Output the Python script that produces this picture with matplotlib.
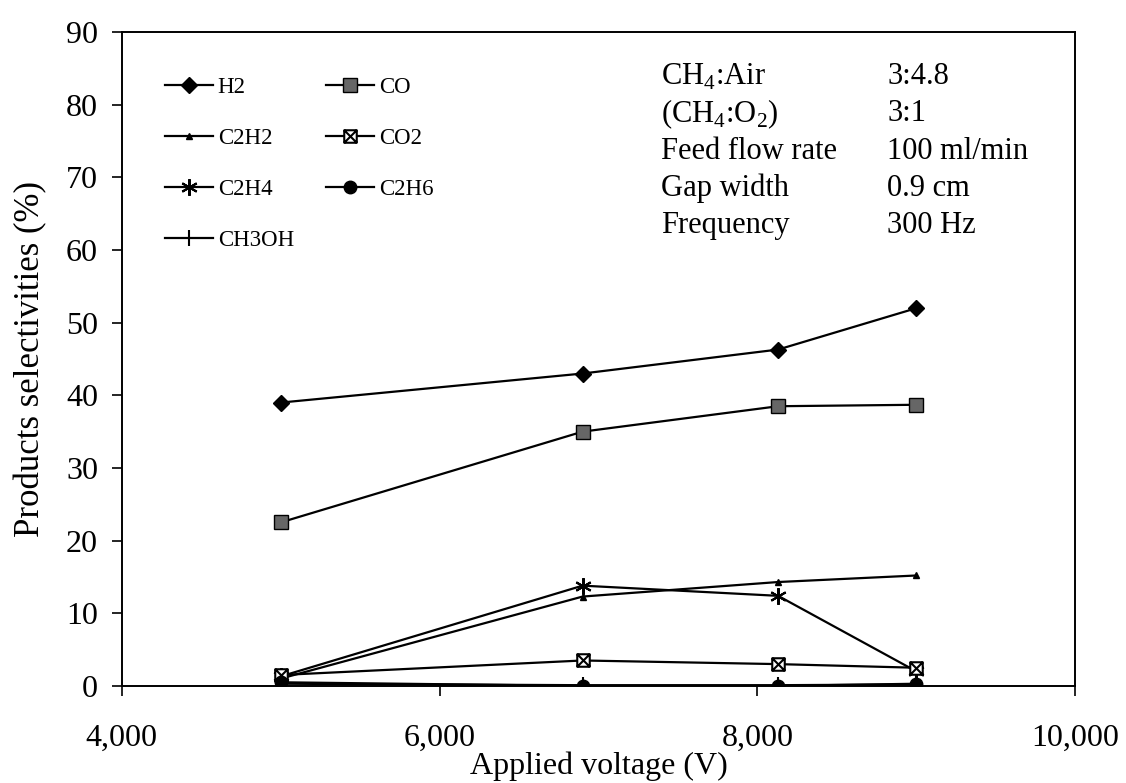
import numpy as np
import matplotlib.pyplot as plt
import matplotlib.ticker as ticker
from matplotlib.path import Path

# ===== DADOS =====
voltage = [5000, 6900, 8130, 9000]
h2 = [39.0, 43.0, 46.3, 52.0]
co = [22.5, 35.0, 38.5, 38.7]
c2h2 = [1.0, 12.3, 14.3, 15.2]
co2 = [1.5, 3.5, 3.0, 2.5]
c2h4 = [1.3, 13.8, 12.4, 2.0]
c2h6 = [0.5, 0.0, 0.0, 0.3]
ch3oh = [0.3, 0.1, 0.1, 0.2]

info_labels = ["CH$_4$:Air", "(CH$_4$:O$_2$)", "Feed flow rate", "Gap width", "Frequency"]
info_values = ["3:4.8", "3:1", "100 ml/min", "0.9 cm", "300 Hz"]

plt.rcParams["font.family"] = ["Liberation Serif", "DejaVu Serif"]
plt.rcParams["mathtext.fontset"] = "custom"
plt.rcParams["mathtext.rm"] = "Liberation Serif"

# marcador quadrado com X (CO2)
box_x = Path(
    [(-1, -1), (1, -1), (1, 1), (-1, 1), (-1, -1), (-1, -1), (1, 1), (-1, 1), (1, -1)],
    [Path.MOVETO, Path.LINETO, Path.LINETO, Path.LINETO, Path.CLOSEPOLY,
     Path.MOVETO, Path.LINETO, Path.MOVETO, Path.LINETO],
)

fig = plt.figure(figsize=(11.26, 7.83), dpi=100)
ax = fig.add_axes([0.108, 0.124, 0.847, 0.835])

kw = dict(color="black", linewidth=1.6)
ax.plot(voltage, h2, marker="D", markersize=8, markerfacecolor="black", label="H2", **kw)
ax.plot(voltage, c2h2, marker="^", markersize=5, markerfacecolor="black", label="C2H2", **kw)
ax.plot(voltage, c2h4, marker=(6, 2, 0), markersize=12, markeredgewidth=1.5, label="C2H4", **kw)
ax.plot(voltage, ch3oh, marker="|", markersize=12, markeredgewidth=1.5, label="CH3OH", **kw)
ax.plot(voltage, co, marker="s", markersize=10, markerfacecolor="#666666",
        markeredgecolor="black", label="CO", **kw)
ax.plot(voltage, co2, marker=box_x, markersize=9, markerfacecolor="white",
        markeredgewidth=1.5, label="CO2", **kw)
ax.plot(voltage, c2h6, marker="o", markersize=9, markerfacecolor="black", label="C2H6", **kw)

ax.set_xlim(4000, 10000)
ax.set_ylim(0, 90)
ax.xaxis.set_major_locator(ticker.MultipleLocator(2000))
ax.xaxis.set_major_formatter(ticker.FuncFormatter(lambda v, p: f"{int(v):,}"))
ax.yaxis.set_major_locator(ticker.MultipleLocator(10))
ax.tick_params(axis="both", direction="out", length=7, width=1.2, labelsize=23, color="black")
ax.tick_params(axis="x", pad=20)
ax.tick_params(axis="y", pad=10)
for s in ax.spines.values():
    s.set_linewidth(1.4)

ax.set_xlabel("Applied voltage (V)", fontsize=23, va="top")
ax.xaxis.set_label_coords(0.5, -0.1)
ax.set_ylabel("Products selectivities (%)", fontsize=25)
ax.yaxis.set_label_coords(-0.078, 0.5)

leg = ax.legend(ncol=2, loc="upper left", bbox_to_anchor=(0.045, 0.932), frameon=False,
                fontsize=16.5, handlelength=2.1, handletextpad=0.22, columnspacing=1.4,
                labelspacing=1.32, borderpad=0, borderaxespad=0)

y0 = 0.932
for i, (lab, val) in enumerate(zip(info_labels, info_values)):
    y = y0 - i * 0.057
    ax.text(0.566, y, lab, transform=ax.transAxes, fontsize=22, va="center")
    ax.text(0.803, y, val, transform=ax.transAxes, fontsize=22, va="center")

fig.savefig("out.png", dpi=100)
